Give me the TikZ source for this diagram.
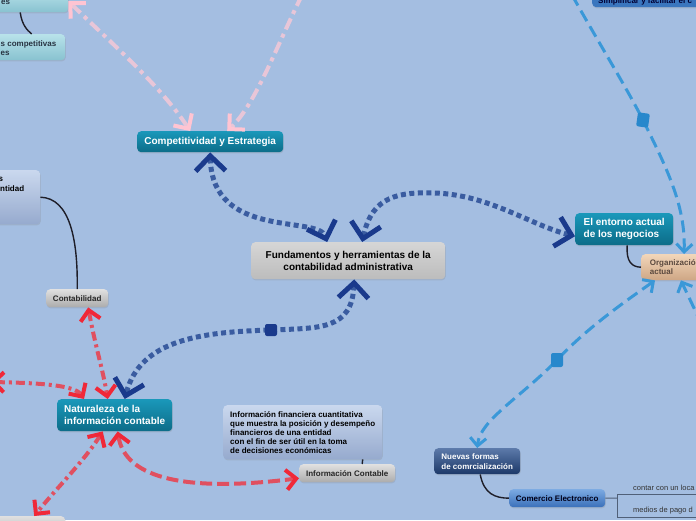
\documentclass[tikz,border=0pt]{standalone}
\usepackage{fontspec}
\setmainfont{Liberation Sans}
\usetikzlibrary{arrows.meta,shadows}
\definecolor{bgc}{RGB}{164,190,225}
\definecolor{tealT}{RGB}{26,152,186}
\definecolor{tealB}{RGB}{12,108,136}
\definecolor{greyT}{RGB}{224,224,224}
\definecolor{greyB}{RGB}{172,172,172}
\definecolor{fundT}{RGB}{214,214,214}
\definecolor{fundB}{RGB}{188,188,188}
\definecolor{ltealT}{RGB}{184,226,234}
\definecolor{ltealB}{RGB}{136,194,208}
\definecolor{lblT}{RGB}{202,216,238}
\definecolor{lblB}{RGB}{150,170,206}
\definecolor{tanT}{RGB}{242,214,186}
\definecolor{tanB}{RGB}{206,166,132}
\definecolor{dkT}{RGB}{92,122,170}
\definecolor{dkB}{RGB}{28,56,104}
\definecolor{blT}{RGB}{124,170,226}
\definecolor{blB}{RGB}{58,112,186}
\definecolor{simpC}{RGB}{58,118,190}
\definecolor{navyDot}{RGB}{58,92,160}
\definecolor{navyTip}{RGB}{26,58,140}
\definecolor{pinkL}{RGB}{232,198,216}
\definecolor{pinkT}{RGB}{255,196,210}
\definecolor{redL}{RGB}{224,80,96}
\definecolor{redT}{RGB}{240,40,56}
\definecolor{skyL}{RGB}{58,152,216}
\definecolor{skyM}{RGB}{40,136,204}
\definecolor{inkC}{RGB}{30,30,40}
\definecolor{txtD}{RGB}{40,52,66}
\definecolor{orgTxt}{RGB}{90,72,62}
\definecolor{lineG}{RGB}{80,96,120}
\begin{document}
\begin{tikzpicture}[x=1pt,y=-1pt,
  box/.style={rounded corners=4pt, inner sep=0pt, anchor=north west,
    drop shadow={shadow xshift=0.6pt,shadow yshift=-1.2pt,opacity=0.22}},
  big/.style={font=\fontsize{10}{12}\selectfont\bfseries},
  small/.style={font=\fontsize{8}{9}\selectfont\bfseries},
  tealbox/.style={box, big, top color=tealT, bottom color=tealB, text=white, align=left},
  greybox/.style={box, small, top color=greyT, bottom color=greyB, text=black!85, align=center},
  fundbox/.style={box, big, top color=fundT, bottom color=fundB, text=black, align=center},
  ltealbox/.style={box, top color=ltealT, bottom color=ltealB},
  lblbox/.style={box, top color=lblT, bottom color=lblB},
  tanbox/.style={box, small, top color=tanT, bottom color=tanB, text=orgTxt, align=left},
  dkbox/.style={box, small, top color=dkT, bottom color=dkB, text=white, align=left, font=\fontsize{8}{10}\selectfont\bfseries},
  bluebox/.style={box, small, top color=blT, bottom color=blB, text=black!90!blue, align=center},
  lbl/.style={inner sep=0pt, anchor=base west},
  navymark/.style={fill=navyTip, rounded corners=2pt, minimum width=12pt, minimum height=12pt, inner sep=0pt},
  skymark/.style={fill=skyM, rounded corners=2pt, minimum width=12pt, minimum height=14pt, inner sep=0pt},
  navyc/.style={draw=navyDot, line width=5pt, dash pattern=on 5pt off 3.5pt},
  pinkc/.style={draw=pinkL, line width=4pt, dash pattern=on 12pt off 5pt on 4pt off 5pt},
  reddd/.style={draw=redL, line width=4pt, dash pattern=on 9pt off 4pt on 3pt off 4pt},
  redda/.style={draw=redL, line width=4pt, dash pattern=on 12pt off 5pt},
  skyc/.style={draw=skyL, line width=3pt, dash pattern=on 12pt off 6pt},
  thin/.style={draw=inkC, line width=1.4pt},
  NB/.tip={Straight Barb[length=15pt,width=30pt,color=navyTip]},
  RB/.tip={Straight Barb[length=10pt,width=20pt,color=redT]},
  PB/.tip={Straight Barb[length=11pt,width=22pt,color=pinkT]},
  SB/.tip={Straight Barb[length=8pt,width=16pt,color=skyL]}
]
\useasboundingbox (0,0) rectangle (696,520);
\fill[bgc] (0,0) rectangle (696,520);
\begin{scope}
\clip (0,0) rectangle (696,520);

% ---- nodes
\node[ltealbox, minimum width=90pt, minimum height=22pt] (n1) at (-22,-10) {};
\node[lbl, small, text=txtD] (n1a) at (1,4) {es};
\node[ltealbox, minimum width=87pt, minimum height=26pt] (n2) at (-22,34) {};
\node[lbl, small, text=txtD] (n2a) at (0.5,46) {s competitivas};
\node[lbl, small, text=txtD] (n2b) at (0.5,55) {es};
\node[lblbox, minimum width=62pt, minimum height=54pt] (n3) at (-22,170) {};
\node[lbl, small, text=black] (n3a) at (-1.5,181) {s};
\node[lbl, small, text=black] (n3b) at (0,191) {ntidad};

\node[greybox, minimum width=62pt, minimum height=18pt] (cont) at (46,289) {Contabilidad};
\node[tealbox, align=center, minimum width=146pt, minimum height=21pt] (comp) at (137,131) {Competitividad y Estrategia};
\node[fundbox, minimum width=194pt, minimum height=37pt] (fund) at (251,242) {Fundamentos y herramientas de la\\contabilidad administrativa};
\node[tealbox, minimum width=98pt, minimum height=32pt] (ent) at (575,213) {El entorno actual\\de los negocios};
\node[tanbox, minimum width=68pt, minimum height=26pt] (org) at (641,254) {Organización\\actual};
\node[box, fill=simpC, minimum width=130pt, minimum height=23pt] (simp) at (592,-16) {};
\node[lbl, small, text=black!80!blue] (simpt) at (598,3) {Simplificar y facilitar el c};
\node[tealbox, minimum width=115pt, minimum height=32pt] (nat) at (57,399) {Naturaleza de la\\información contable};
\node[lblbox, small, align=left, text=black, minimum width=159pt, minimum height=54pt] (inf) at (223,405) {Información financiera cuantitativa\\que muestra la posición y desempeño\\financieros de una entidad\\con el fin de ser útil en la toma\\de decisiones económicas};
\node[greybox, minimum width=96pt, minimum height=18pt] (ic) at (299,464) {Información Contable};
\node[dkbox, minimum width=86pt, minimum height=26pt] (nue) at (434,448) {Nuevas formas\\de comrcialización};
\node[bluebox, minimum width=96pt, minimum height=18pt] (com) at (509,489) {Comercio Electronico};
\node[greybox, minimum width=70pt, minimum height=24pt] (bot) at (-5,516) {};
\node[lbl, font=\fontsize{7.5}{9}\selectfont, text=black!80] (t1) at (633,490) {contar con un loca};
\node[lbl, font=\fontsize{7.5}{9}\selectfont, text=black!80] (t2) at (633,512) {medios de pago d};

% ---- marker positions
\coordinate (m1) at (271,330);
\coordinate (m2) at (643,120);
\coordinate (m3) at (557,360);

% ---- thin black branches
\draw[thin] ([xshift=-3pt]n1.south) .. controls (22,25) and (27,30) .. ([xshift=10pt]n2.north);
\draw[thin] (n3.east) .. controls (70,198) and (78,240) .. (cont.north);
\draw[thin] ([xshift=3pt]ent.south) .. controls (626,262) and (632,267) .. (org.west);
\draw[thin] ([xshift=3pt]nue.south) .. controls (484,494) and (495,498) .. (com.west);
\draw[thin] ([xshift=60pt]inf.south) -- ([xshift=15pt]ic.north);
\coordinate (brk) at (617,498);
\draw[lineG, line width=1pt] (com.east) -- (brk);
\draw[lineG, line width=1pt] (700,494) -- (617,494) -- (617,517) -- (700,517);

% ---- navy dotted connectors
\draw[navyc, NB-NB] (comp.south) .. controls (212,240) and (318,215) .. ([xshift=-21pt]fund.north);
\draw[navyc, NB-NB] ([xshift=14pt]fund.north) .. controls (372,195) and (400,192) .. (435,193) .. controls (490,195) and (530,225) .. ([yshift=-7pt]ent.west);
\draw[navyc, NB-NB] ([xshift=6pt]fund.south) .. controls (352,330) and (320,328) .. (m1) .. controls (200,332) and (140,340) .. ([xshift=10pt]nat.north);
\node[navymark] (mk1) at (m1) {};

% ---- pink
\draw[pinkc, PB-PB] (n1.east) .. controls (110,42) and (160,85) .. ([xshift=-20pt]comp.north);
\draw[pinkc, -PB] (302,-5) .. controls (275,50) and (255,105) .. ([xshift=17pt]comp.north);

% ---- red
\draw[reddd, RB-RB] ([xshift=11pt]cont.south) .. controls (95,345) and (103,370) .. ([xshift=-7pt]nat.north);
\draw[reddd, RB-RB] (-9,382) .. controls (40,383) and (75,385) .. ([xshift=27pt]nat.north west);
\draw[reddd, RB-RB] ([xshift=-12pt]nat.south) .. controls (85,460) and (55,490) .. ([xshift=4pt]bot.north);
\draw[redda, RB-RB] ([xshift=3pt]nat.south) .. controls (125,480) and (190,492) .. ([yshift=-5pt]ic.west);

% ---- sky blue dashed
\draw[skyc, -SB] (572,-5) .. controls (600,45) and (625,85) .. (m2) .. controls (665,165) and (686,205) .. ([xshift=43pt]org.north west);
\draw[skyc, SB-SB] ([xshift=14pt]org.south west) .. controls (620,305) and (585,330) .. (m3) .. controls (520,398) and (480,420) .. (nue.north);
\draw[skyc, -SB] (702,325) .. controls (692,305) .. ([xshift=40pt]org.south west);
\node[skymark, rotate=-8] (mk2) at (m2) {};
\node[skymark] (mk3) at (m3) {};
\end{scope}
\end{tikzpicture}
\end{document}
